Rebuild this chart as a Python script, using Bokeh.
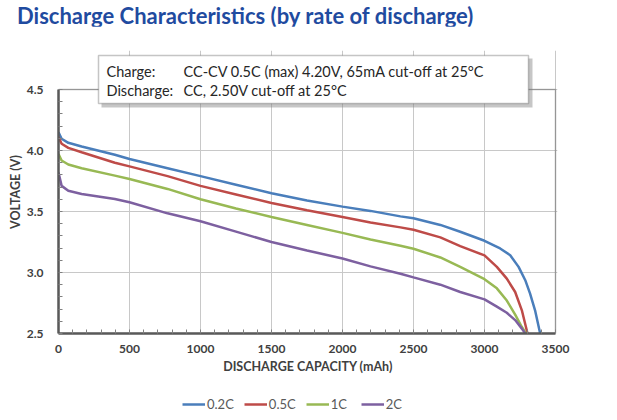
from bokeh.plotting import figure
from bokeh.layouts import column
from bokeh.models import (Range1d, Label, Legend, LegendItem, SingleIntervalTicker,
                          BoxAnnotation, CustomJSTickFormatter, Div)
from bokeh.embed import file_html
from bokeh.resources import INLINE

# ---- data ----
cap_02 = [0, 22, 69, 163, 397, 500, 768, 1000, 1250, 1500, 1750, 2000, 2197, 2408, 2500, 2689, 2829, 3000, 3110, 3181, 3240, 3287, 3321, 3356, 3392]
v_02 = [4.15, 4.096, 4.063, 4.033, 3.965, 3.93, 3.855, 3.79, 3.72, 3.65, 3.59, 3.54, 3.505, 3.46, 3.445, 3.39, 3.334, 3.26, 3.197, 3.142, 3.046, 2.937, 2.827, 2.69, 2.50]

cap_05 = [0, 22, 69, 163, 397, 500, 768, 1000, 1250, 1500, 1750, 2000, 2197, 2408, 2500, 2689, 2829, 3000, 3087, 3157, 3216, 3263, 3303]
v_05 = [4.11, 4.055, 4.022, 3.986, 3.90, 3.87, 3.79, 3.71, 3.64, 3.57, 3.51, 3.455, 3.41, 3.37, 3.35, 3.288, 3.216, 3.14, 3.046, 2.95, 2.84, 2.69, 2.50]

cap_1 = [0, 22, 69, 163, 397, 500, 768, 1000, 1250, 1500, 1750, 2000, 2197, 2408, 2500, 2689, 2829, 3000, 3087, 3157, 3216, 3263, 3293]
v_1 = [3.97, 3.918, 3.885, 3.855, 3.794, 3.767, 3.685, 3.60, 3.525, 3.455, 3.39, 3.325, 3.27, 3.22, 3.195, 3.123, 3.046, 2.945, 2.87, 2.77, 2.655, 2.553, 2.50]

cap_2 = [0, 22, 69, 163, 397, 500, 768, 1000, 1250, 1500, 1750, 2000, 2197, 2408, 2500, 2689, 2829, 3000, 3087, 3157, 3216, 3263, 3287]
v_2 = [3.82, 3.71, 3.67, 3.643, 3.603, 3.576, 3.485, 3.42, 3.335, 3.25, 3.18, 3.115, 3.05, 2.99, 2.96, 2.90, 2.84, 2.78, 2.72, 2.67, 2.61, 2.54, 2.50]

series_names = ["0.2C", "0.5C", "1C", "2C"]
series_caps = [cap_02, cap_05, cap_1, cap_2]
series_volts = [v_02, v_05, v_1, v_2]
series_colors = ["#4A7EBB", "#BE4B48", "#98B954", "#7D60A0"]

x_ticks_step = 500
y_ticks_step = 0.5

title_text = "Discharge Characteristics (by rate of discharge)"
note_keys = ["Charge:", "Discharge:"]
note_vals = ["CC-CV 0.5C (max) 4.20V, 65mA cut-off at 25\u00b0C", "CC, 2.50V cut-off at 25\u00b0C"]
x_label = "DISCHARGE CAPACITY (mAh)"
y_label = "VOLTAGE (V)"

FONT = "Lato"
X0, X1 = 0, 3500
Y0, Y1 = 2.5, 4.5

# pixel geometry helpers (frame: 499 x 283 px, 142 px per 1000 mAh, 122 px per volt)
FW, FH = 499, 283
XR = (X0, X0 + FW * (X1 - X0) / 497.0)
YR = (Y0, Y0 + FH / 122.0)
def px_x(px):   # px from frame left -> data x
    return XR[0] + px * (XR[1] - XR[0]) / FW
def px_y(px):   # px below frame top -> data y
    return YR[1] - px * (YR[1] - YR[0]) / FH

TOTAL_W = 58 + FW + 52

# title strip
title = Div(text=title_text, width=TOTAL_W, height=26, margin=(0, 0, 0, 0),
            styles={"font-family": FONT, "font-weight": "bold", "font-size": "22px",
                    "color": "#1F4BA0", "line-height": "22px", "padding-left": "17px",
                    "padding-top": "5px", "white-space": "nowrap"})

p = figure(frame_width=FW, frame_height=FH,
           min_border_left=58, min_border_right=52, min_border_top=24, min_border_bottom=56,
           x_range=Range1d(*XR), y_range=Range1d(*YR),
           output_backend="svg", toolbar_location=None)
p.background_fill_color = "white"
p.border_fill_color = "white"
p.outline_line_color = None

# axes
p.xaxis.ticker = SingleIntervalTicker(interval=x_ticks_step, num_minor_ticks=5)
p.yaxis.ticker = SingleIntervalTicker(interval=y_ticks_step, num_minor_ticks=5)
p.yaxis.formatter = CustomJSTickFormatter(code="return tick.toFixed(1);")
p.xaxis.bounds = (X0, X1)
p.yaxis.bounds = (Y0, Y1)
for ax in (p.xaxis[0], p.yaxis[0]):
    ax.axis_line_color = "#595959"
    ax.axis_line_width = 2.5
    ax.major_tick_in = 0
    ax.major_tick_out = 0
    ax.minor_tick_in = 4
    ax.minor_tick_out = 0
    ax.minor_tick_line_color = "#808080"
    ax.major_label_text_font = FONT
    ax.major_label_text_font_style = "bold"
    ax.major_label_text_font_size = "12px"
    ax.major_label_text_color = "#404040"
    ax.axis_label_text_font = FONT
    ax.axis_label_text_font_style = "bold"
    ax.axis_label_text_font_size = "12.5px"
    ax.axis_label_text_color = "#404040"
p.xaxis.axis_label = x_label
p.yaxis.axis_label = y_label
p.xaxis.major_label_standoff = 11
p.xaxis.axis_label_standoff = 3
p.yaxis.major_label_standoff = 15
p.yaxis.axis_label_standoff = 1

p.xgrid.ticker = p.xaxis.ticker
p.ygrid.ticker = p.yaxis.ticker
p.grid.grid_line_color = "#C8C8C8"
p.grid.grid_line_width = 1
p.xgrid.bounds = (X0, X1)
p.ygrid.bounds = (Y0, Y1)

# plot border (right / top edges)
p.add_layout(BoxAnnotation(left=X0, right=X1, bottom=Y0, top=Y1, fill_alpha=0,
                           line_color="#262626", line_width=1.5, level="underlay"))

# curves
for name, xs, ys, col in zip(series_names, series_caps, series_volts, series_colors):
    p.line(xs, ys, line_color=col, line_width=2.5)

# note box with shadow
p.add_layout(BoxAnnotation(left=px_x(43), right=px_x(474), top=px_y(8), bottom=px_y(57),
                           fill_color="#808080", fill_alpha=0.45, line_color=None))
p.add_layout(BoxAnnotation(left=px_x(40), right=px_x(470), top=px_y(5), bottom=px_y(53),
                           fill_color="white", fill_alpha=1, line_color="#404040", line_width=1.5))
for i, (k, v) in enumerate(zip(note_keys, note_vals)):
    yy = px_y(21 + 19 * i)
    p.add_layout(Label(x=px_x(48), y=yy, text=k, text_font=FONT, text_font_size="14.5px",
                       text_color="#262626", text_baseline="middle"))
    p.add_layout(Label(x=px_x(125), y=yy, text=v, text_font=FONT, text_font_size="14.5px",
                       text_color="#262626", text_baseline="middle"))

# legend strip (own small canvas below the chart; its series lines lie outside its view)
leg = figure(width=TOTAL_W, height=26,
             x_range=Range1d(0, 1), y_range=Range1d(0, 1),
             x_axis_type=None, y_axis_type=None,
             min_border_left=0, min_border_right=0, min_border_top=0, min_border_bottom=0,
             output_backend="svg", toolbar_location=None)
leg.outline_line_color = None
leg.grid.visible = False
items = []
for name, xs, ys, col in zip(series_names, series_caps, series_volts, series_colors):
    r = leg.line(xs, ys, line_color=col, line_width=2.5)
    items.append(LegendItem(label=name, renderers=[r]))
legend = Legend(items=items, orientation="horizontal", location=(124, 3),
                glyph_width=23, glyph_height=16, label_standoff=2, spacing=10,
                padding=0, margin=0, border_line_color=None, background_fill_alpha=0,
                label_text_font=FONT, label_text_font_size="13px", label_text_color="#595959")
leg.add_layout(legend, "center")

layout = column(title, p, leg, spacing=0)
open("out.html", "w").write(file_html(layout, INLINE))
